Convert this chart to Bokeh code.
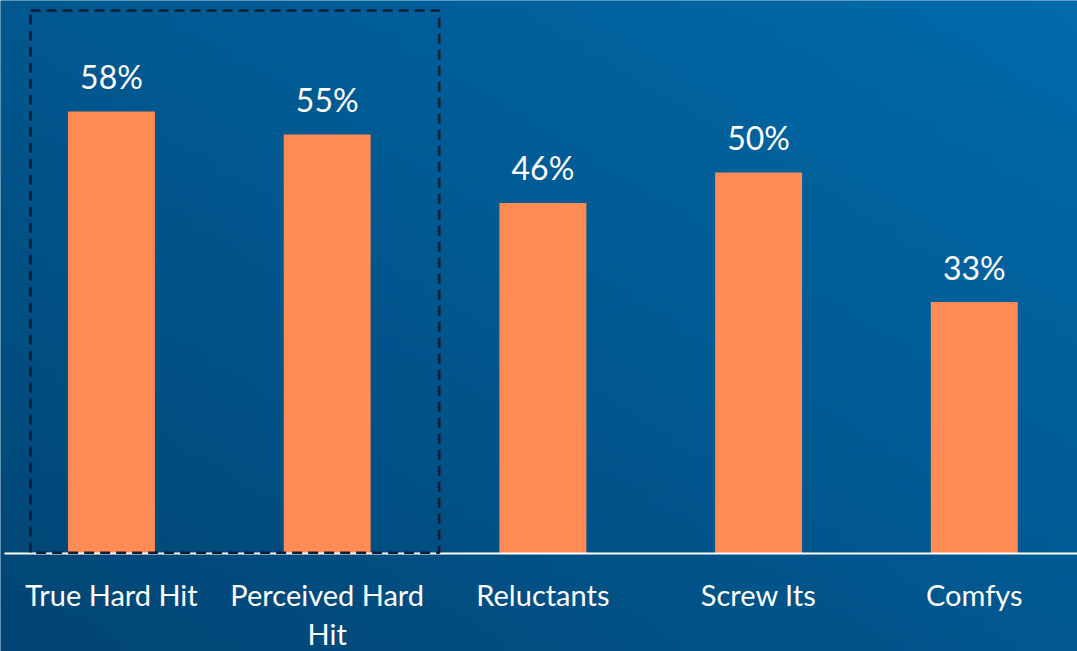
import textwrap
import numpy as np
from bokeh.plotting import figure
from bokeh.models import Range1d
from bokeh.core.properties import value
from bokeh.embed import file_html
from bokeh.resources import INLINE

categories = ["True Hard Hit", "Perceived Hard Hit", "Reluctants", "Screw Its", "Comfys"]
values = [58, 55, 46, 50, 33]
value_labels = ["58%", "55%", "46%", "50%", "33%"]
highlighted = ["True Hard Hit", "Perceived Hard Hit"]

W, H = 1077, 651
step = 215.7          # px per category
c0 = 111              # px of first category centre
ppu = 7.62            # px per percent
base = 553            # px of the zero line from top

x0, x1 = -c0 / step, (W - c0) / step
y0, y1 = -(H - base) / ppu, base / ppu

p = figure(width=W, height=H, output_backend="svg", toolbar_location=None,
           x_range=Range1d(x0, x1), y_range=Range1d(y0, y1),
           min_border=0, min_border_left=0, min_border_right=0,
           min_border_top=0, min_border_bottom=0)
p.axis.visible = False
p.grid.visible = False
p.outline_line_color = None
p.background_fill_color = "#015A92"
p.border_fill_color = "#015A92"

# diagonal gradient background (dark bottom-left -> light top-right)
gh, gw = 60, 100
yy, xx = np.mgrid[0:gh, 0:gw]
t = (xx / (gw - 1) + yy / (gh - 1)) / 2.0   # row 0 = bottom
c_dark = np.array([0x02, 0x45, 0x74])
c_light = np.array([0x00, 0x6B, 0xAB])
rgb = c_dark[None, None, :] * (1 - t[..., None]) + c_light[None, None, :] * t[..., None]
img = np.empty((gh, gw), dtype=np.uint32)
view = img.view(dtype=np.uint8).reshape((gh, gw, 4))
view[..., 0] = rgb[..., 0].astype(np.uint8)
view[..., 1] = rgb[..., 1].astype(np.uint8)
view[..., 2] = rgb[..., 2].astype(np.uint8)
view[..., 3] = 255
p.image_rgba(image=[img], x=x0, y=y0, dw=x1 - x0, dh=y1 - y0)

idx = list(range(len(categories)))

p.vbar(x=idx, top=values, bottom=0, width=0.403, fill_color="#FF8C55", line_color=None)

# baseline
p.segment(x0=[x0 + 4 / step], y0=[0], x1=[x1], y1=[0], line_color="white", line_width=2)

# value labels
p.text(x=idx, y=values, text=value_labels, text_align="center", text_baseline="alphabetic",
       y_offset=-35, text_color="white", text_font=value("Lato"), text_font_size="32px")

# category labels (wrapped)
line1, line2 = [], []
for c in categories:
    parts = textwrap.wrap(c, 14)
    line1.append(parts[0])
    line2.append(parts[1] if len(parts) > 1 else "")
p.text(x=idx, y=[0] * len(idx), text=line1, text_align="center", text_baseline="alphabetic",
       y_offset=41, text_color="white", text_font=value("Lato"), text_font_size="29px")
p.text(x=idx, y=[0] * len(idx), text=line2, text_align="center", text_baseline="alphabetic",
       y_offset=80, text_color="white", text_font=value("Lato"), text_font_size="29px")

# dashed highlight box around the highlighted categories
hi = [categories.index(c) for c in highlighted]
p.quad(left=[min(hi) - 81 / step], right=[max(hi) + 112 / step], bottom=[0.1], top=[y1 - 10 / ppu],
       fill_alpha=0, line_color="#0E1C36", line_width=2.5, line_dash="10 6")

open("out.html", "w").write(file_html(p, INLINE))
